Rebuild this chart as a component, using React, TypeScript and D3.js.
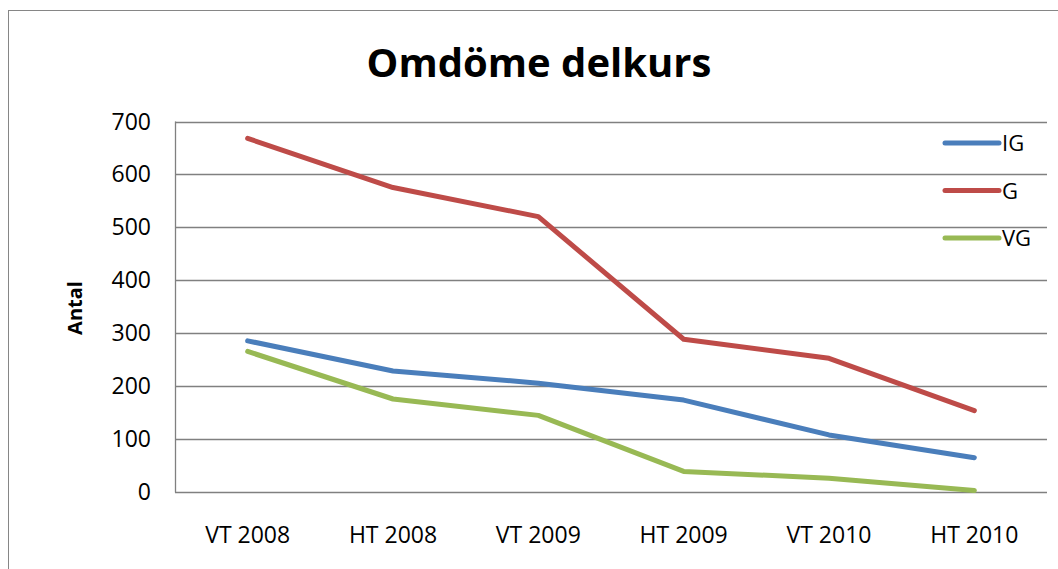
import React, { useEffect, useRef } from "react";
import * as d3 from "d3";

const terms = ["VT 2008", "HT 2008", "VT 2009", "HT 2009", "VT 2010", "HT 2010"];
const igValues = [285, 228, 205, 173, 107, 64];
const gValues = [668, 575, 520, 288, 252, 153];
const vgValues = [265, 175, 144, 38, 25, 2];
const yTicks = [0, 100, 200, 300, 400, 500, 600, 700];

const series = [
    { name: "IG", values: igValues, color: "#4a7ebb" },
    { name: "G", values: gValues, color: "#be4b48" },
    { name: "VG", values: vgValues, color: "#98b954" },
];

const App = () => {
    const ref = useRef<SVGSVGElement>(null);

    useEffect(() => {
        const svg = d3.select(ref.current);
        svg.selectAll("*").remove();

        const left = 175, right = 1047, top = 121.5, bottom = 491.5;
        const font = "'Open Sans', sans-serif";

        // outer chart border (runs off the right/bottom of the picture)
        svg.append("rect")
            .attr("x", 8.5).attr("y", 10.5)
            .attr("width", 1100).attr("height", 600)
            .attr("fill", "white")
            .attr("stroke", "#868686");

        const x = d3.scaleBand().domain(terms).range([left, right]);
        const y = d3.scaleLinear().domain([0, 700]).range([bottom, top]);

        // gridlines
        svg.append("g").selectAll("line")
            .data(yTicks)
            .enter().append("line")
            .attr("x1", left).attr("x2", right)
            .attr("y1", d => Math.round(y(d)) + 0.5)
            .attr("y2", d => Math.round(y(d)) + 0.5)
            .attr("stroke", "#808080").attr("stroke-width", 1.3);

        svg.append("line")
            .attr("x1", left + 0.5).attr("x2", left + 0.5)
            .attr("y1", top).attr("y2", bottom + 1)
            .attr("stroke", "#808080").attr("stroke-width", 1.3);

        // y tick labels
        svg.append("g").selectAll("text")
            .data(yTicks)
            .enter().append("text")
            .attr("x", 151)
            .attr("y", d => y(d) + 8)
            .attr("text-anchor", "end")
            .style("font-family", font).style("font-size", "23px")
            .text(d => d);

        // category labels
        svg.append("g").selectAll("text")
            .data(terms)
            .enter().append("text")
            .attr("x", d => x(d)! + x.bandwidth() / 2)
            .attr("y", 543)
            .attr("text-anchor", "middle")
            .style("font-family", font).style("font-size", "23px")
            .text(d => d);

        const line = d3.line<number>()
            .x((d, i) => x(terms[i])! + x.bandwidth() / 2)
            .y(d => y(d));

        svg.append("g").selectAll("path")
            .data(series)
            .enter().append("path")
            .attr("d", d => line(d.values))
            .attr("fill", "none")
            .attr("stroke", d => d.color)
            .attr("stroke-width", 5)
            .attr("stroke-linecap", "round")
            .attr("stroke-linejoin", "round");

        // legend
        const legend = svg.append("g");
        legend.selectAll("line")
            .data(series)
            .enter().append("line")
            .attr("x1", 945).attr("x2", 999)
            .attr("y1", (d, i) => 143 + i * 47.5)
            .attr("y2", (d, i) => 143 + i * 47.5)
            .attr("stroke", d => d.color)
            .attr("stroke-width", 5)
            .attr("stroke-linecap", "round");
        legend.selectAll("text")
            .data(series)
            .enter().append("text")
            .attr("x", 1002)
            .attr("y", (d, i) => 151 + i * 47.5)
            .style("font-family", font).style("font-size", "22px")
            .text(d => d.name);

        // title + axis title
        svg.append("text")
            .attr("x", 539).attr("y", 77)
            .attr("text-anchor", "middle")
            .style("font-family", font).style("font-size", "40px").style("font-weight", "bold")
            .text("Omdöme delkurs");

        svg.append("text")
            .attr("transform", "translate(82,308) rotate(-90)")
            .attr("text-anchor", "middle")
            .style("font-family", font).style("font-size", "20px").style("font-weight", "bold")
            .text("Antal");
    }, []);

    return (
        <svg ref={ref} width="1058" height="569"
            style={{ position: "absolute", left: 0, top: 0, background: "white" }}></svg>
    );
};

export default App;
